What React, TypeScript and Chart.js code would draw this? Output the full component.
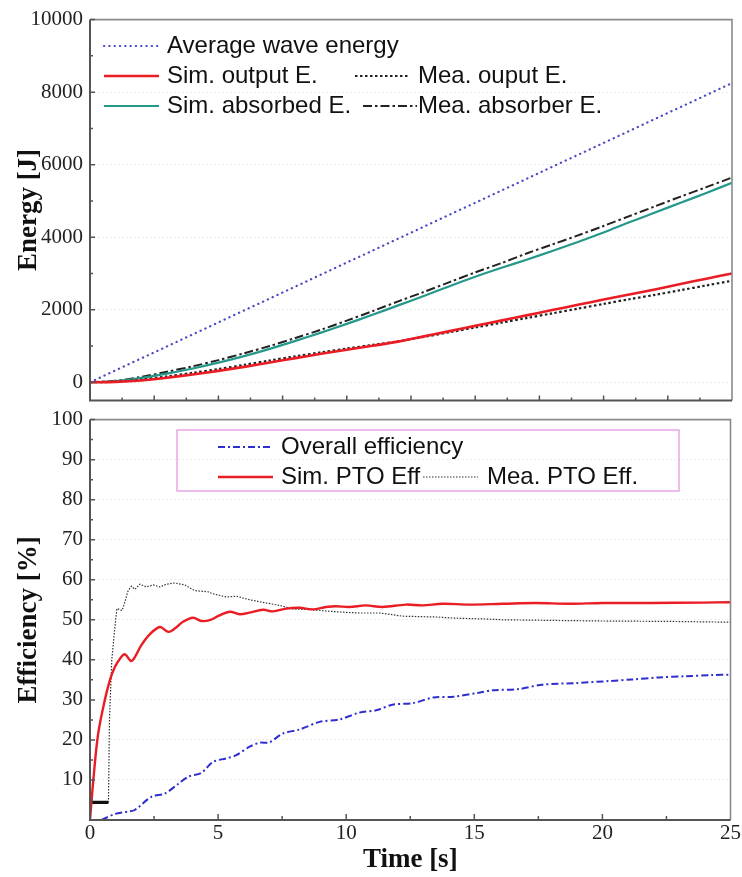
import { useEffect, useRef } from "react";
import { Chart, registerables } from "chart.js";

Chart.register(...registerables);

// ---------- Top panel: energy [J] vs time [s] ----------
const energyTime = [0, 1, 2, 3, 4, 5, 6, 7, 8, 9, 10, 11, 12, 13, 14, 15, 16, 17, 18, 19, 20, 21, 22, 23, 24, 25];
const avgWaveTime = [0, 5, 10, 15, 20, 25];
const avgWaveEnergy = [0, 1650, 3300, 4950, 6600, 8250];
const simOutputE = [0, 10, 50, 125, 215, 315, 425, 545, 665, 785, 895, 1005, 1120, 1265, 1410, 1555, 1700, 1845, 1990, 2135, 2280, 2420, 2560, 2710, 2855, 3000];
const meaOutputE = [0, 15, 70, 160, 260, 365, 480, 600, 715, 825, 930, 1030, 1130, 1250, 1380, 1510, 1640, 1770, 1900, 2030, 2160, 2290, 2410, 2540, 2670, 2800];
const simAbsorbedE = [0, 30, 120, 240, 380, 540, 720, 920, 1140, 1370, 1610, 1860, 2120, 2380, 2650, 2910, 3150, 3380, 3620, 3870, 4130, 4410, 4680, 4950, 5220, 5500];
const meaAbsorberE = [0, 40, 150, 290, 440, 610, 800, 1000, 1220, 1450, 1700, 1960, 2230, 2490, 2760, 3030, 3280, 3550, 3800, 4050, 4310, 4580, 4850, 5120, 5380, 5645];
const energyTicks = [0, 2000, 4000, 6000, 8000, 10000];
const energyMinorTicks = [1000, 3000, 5000, 7000, 9000];

// ---------- Bottom panel: efficiency [%] vs time [s] ----------
const simPtoT = [0, 0.13, 0.32, 0.58, 0.78, 0.97, 1.17, 1.36, 1.6, 1.75, 2.0, 2.34, 2.73, 3.05, 3.31, 3.63, 4.02, 4.35, 4.67, 5.06, 5.45, 5.84, 6.23, 6.75, 7.14, 7.66, 8.18, 8.7, 9.21, 9.6, 10.12, 10.77, 11.42, 12.33, 12.98, 13.76, 14.8, 16.1, 17.4, 18.7, 20, 21.9, 23.9, 25];
const simPtoEff = [0, 10, 21.6, 30, 35, 38.2, 40.3, 41.4, 39.7, 40.7, 43.6, 46.4, 48.2, 47, 47.8, 49.5, 50.5, 49.7, 49.9, 51.1, 52, 51.4, 51.8, 52.5, 52.1, 52.8, 53, 52.6, 53.2, 53.4, 53.2, 53.6, 53.2, 53.8, 53.6, 54, 53.8, 54, 54.2, 54, 54.2, 54.2, 54.3, 54.4];
const meaPtoT = [0, 0.72, 0.76, 0.85, 0.97, 1.05, 1.15, 1.25, 1.36, 1.49, 1.62, 1.75, 1.95, 2.2, 2.47, 2.73, 2.99, 3.31, 3.7, 4.08, 4.6, 4.8, 5.32, 5.71, 6.23, 6.88, 7.4, 7.92, 8.7, 9.21, 9.87, 10.51, 11.29, 11.68, 12.2, 13.5, 14.28, 15.45, 16.1, 17.4, 20, 22.6, 25];
const meaPtoEff = [4.4, 4.4, 25, 40, 48, 52.8, 52.6, 52.3, 54.4, 57.3, 58.4, 57.6, 58.9, 58.2, 58.7, 58.2, 58.9, 59.2, 58.7, 57.3, 57, 56.5, 55.7, 55.9, 55, 54.2, 53.6, 52.7, 52.5, 52.2, 51.9, 51.7, 51.7, 51.4, 50.9, 50.7, 50.4, 50.2, 50, 49.9, 49.7, 49.6, 49.4];
const overallT = [0.45, 0.97, 1.49, 1.75, 2.4, 2.92, 3.44, 3.83, 4.35, 4.8, 5.32, 5.71, 6.23, 6.62, 7.0, 7.53, 8.18, 8.96, 9.74, 10.5, 11.17, 11.8, 12.6, 13.4, 14.2, 15.19, 15.7, 16.74, 17.65, 18.95, 20.25, 21.16, 22.2, 23.24, 24.28, 25];
const overallEff = [0, 1.5, 2.1, 2.5, 5.8, 6.6, 9, 10.8, 11.8, 14.5, 15.4, 16.2, 18.3, 19.3, 19.4, 21.6, 22.6, 24.5, 25.1, 26.8, 27.4, 28.8, 29.2, 30.6, 30.8, 31.8, 32.4, 32.7, 33.8, 34.2, 34.7, 35.1, 35.6, 35.9, 36.2, 36.3];
const effTicks = [0, 10, 20, 30, 40, 50, 60, 70, 80, 90, 100];
const effMinorTicks = [5, 15, 25, 35, 45, 55, 65, 75, 85, 95];
const timeTicks = [0, 5, 10, 15, 20, 25];

const SANS = "'Liberation Sans', Arial, sans-serif";
const SERIF = "'Liberation Serif', 'Times New Roman', serif";

type LS = { color: string; width: number; dash: number[]; cap?: CanvasLineCap };
const ST: Record<string, LS> = {
  avg: { color: "#4a4ac4", width: 2.2, dash: [0.3, 5], cap: "round" },
  simOut: { color: "#ea1c24", width: 2.6, dash: [] },
  meaOut: { color: "#222222", width: 2.2, dash: [2.5, 2.5] },
  simAbs: { color: "#24988a", width: 2.2, dash: [] },
  meaAbs: { color: "#222222", width: 2, dash: [9, 3, 2.5, 3] },
  overall: { color: "#2e2ed0", width: 2, dash: [7, 3, 2, 3] },
  simPto: { color: "#ea1c24", width: 2.4, dash: [] },
  meaPto: { color: "#333333", width: 1.2, dash: [1.5, 1.5] },
};

const pts = (xs: number[], ys: number[]) => xs.map((x, i) => ({ x, y: ys[i] }));

function ds(label: string, data: any[], s: LS, extra: any = {}) {
  return {
    label,
    data,
    borderColor: s.color,
    backgroundColor: s.color,
    borderWidth: s.width,
    borderDash: s.dash,
    borderCapStyle: s.cap || "butt",
    pointRadius: 0,
    fill: false,
    ...extra,
  };
}

function sample(ctx: CanvasRenderingContext2D, x1: number, x2: number, y: number, s: LS) {
  ctx.save();
  ctx.strokeStyle = s.color;
  ctx.lineWidth = s.width;
  ctx.setLineDash(s.dash);
  ctx.lineCap = s.cap || "butt";
  ctx.beginPath();
  ctx.moveTo(x1, y);
  ctx.lineTo(x2, y);
  ctx.stroke();
  ctx.restore();
}

function text(ctx: CanvasRenderingContext2D, t: string, x: number, y: number) {
  ctx.save();
  ctx.font = `24px ${SANS}`;
  ctx.fillStyle = "#111";
  ctx.textBaseline = "middle";
  ctx.textAlign = "left";
  ctx.fillText(t, x, y);
  ctx.restore();
}

function framePlugin(
  id: string,
  yMaj: number[],
  yMin: number[],
  xMaj: number[],
  xMin: number[],
  xMajLen: number,
  xMinLen: number
) {
  return {
    id,
    afterDraw(chart: any) {
      const { ctx, chartArea: a, scales } = chart;
      const x = scales.x;
      const y = scales.y;
      ctx.save();
      ctx.setLineDash([]);
      ctx.strokeStyle = "#8a8a8a";
      ctx.lineWidth = 1.6;
      ctx.beginPath();
      ctx.moveTo(a.left, a.top);
      ctx.lineTo(a.right, a.top);
      ctx.lineTo(a.right, a.bottom);
      ctx.stroke();
      ctx.strokeStyle = "#555";
      ctx.lineWidth = 2;
      ctx.beginPath();
      ctx.moveTo(a.left, a.top);
      ctx.lineTo(a.left, a.bottom);
      ctx.lineTo(a.right, a.bottom);
      ctx.stroke();
      ctx.lineWidth = 1.5;
      ctx.beginPath();
      yMaj.forEach((v) => {
        const p = y.getPixelForValue(v);
        ctx.moveTo(a.left, p);
        ctx.lineTo(a.left + 5, p);
      });
      yMin.forEach((v) => {
        const p = y.getPixelForValue(v);
        ctx.moveTo(a.left, p);
        ctx.lineTo(a.left + 3, p);
      });
      xMaj.forEach((v) => {
        const p = x.getPixelForValue(v);
        ctx.moveTo(p, a.bottom);
        ctx.lineTo(p, a.bottom - xMajLen);
      });
      xMin.forEach((v) => {
        const p = x.getPixelForValue(v);
        ctx.moveTo(p, a.bottom);
        ctx.lineTo(p, a.bottom - xMinLen);
      });
      ctx.stroke();
      ctx.restore();
    },
  };
}

const topLegend = {
  id: "topLegend",
  afterDraw(chart: any) {
    const ctx = chart.ctx as CanvasRenderingContext2D;
    sample(ctx, 104, 159, 46, ST.avg);
    text(ctx, "Average wave energy", 167, 46);
    sample(ctx, 104, 159, 76, ST.simOut);
    text(ctx, "Sim. output E.", 167, 76);
    sample(ctx, 355, 408, 76, ST.meaOut);
    text(ctx, "Mea. ouput E.", 418, 76);
    sample(ctx, 104, 159, 106, ST.simAbs);
    text(ctx, "Sim. absorbed E.", 167, 106);
    sample(ctx, 363, 417, 106, ST.meaAbs);
    text(ctx, "Mea. absorber E.", 418, 106);
  },
};

const bottomLegend = {
  id: "bottomLegend",
  afterDraw(chart: any) {
    const ctx = chart.ctx as CanvasRenderingContext2D;
    ctx.save();
    ctx.strokeStyle = "#e8a6e8";
    ctx.lineWidth = 1.5;
    ctx.setLineDash([]);
    ctx.strokeRect(177, 30, 502, 61);
    ctx.restore();
    sample(ctx, 218, 273, 47, ST.overall);
    text(ctx, "Overall efficiency", 281, 47);
    sample(ctx, 218, 273, 77, ST.simPto);
    text(ctx, "Sim. PTO Eff", 281, 77);
    sample(ctx, 423, 478, 77, ST.meaPto);
    text(ctx, "Mea. PTO Eff.", 487, 77);
  },
};

const tickFont = { family: SERIF, size: 21 };
const titleFont = { family: SERIF, size: 27, weight: "bold" as const };
const GRID = "rgba(0,0,0,0.08)";

export default function App() {
  const topRef = useRef<HTMLCanvasElement>(null);
  const botRef = useRef<HTMLCanvasElement>(null);

  useEffect(() => {
    const top = new Chart(topRef.current!, {
      type: "line",
      data: {
        datasets: [
          ds("Sim. output E.", pts(energyTime, simOutputE), ST.simOut, { tension: 0.3 }),
          ds("Mea. ouput E.", pts(energyTime, meaOutputE), ST.meaOut, { tension: 0.3 }),
          ds("Sim. absorbed E.", pts(energyTime, simAbsorbedE), ST.simAbs, { tension: 0.3 }),
          ds("Mea. absorber E.", pts(energyTime, meaAbsorberE), ST.meaAbs, { tension: 0.3 }),
          ds("Average wave energy", pts(avgWaveTime, avgWaveEnergy), ST.avg),
        ] as any,
      },
      options: {
        animation: false,
        responsive: false,
        layout: { padding: { top: 18, right: 10, bottom: 1, left: 0 } },
        plugins: { legend: { display: false }, tooltip: { enabled: false } },
        scales: {
          x: { type: "linear", min: 0, max: 25, display: false },
          y: {
            type: "linear",
            min: -500,
            max: 10000,
            afterBuildTicks: (s: any) => {
              s.ticks = energyTicks.map((v) => ({ value: v }));
            },
            afterFit: (s: any) => {
              s.width = 90;
            },
            ticks: {
              font: tickFont,
              color: "#222",
              padding: 7,
              autoSkip: false,
              callback: (v: any) => String(v),
            },
            grid: { color: GRID, drawTicks: false, lineWidth: 1 },
            border: { display: false, dash: [2, 2] },
            title: {
              display: true,
              text: "Energy [J]",
              font: titleFont,
              color: "#111",
              padding: { top: 13, bottom: 0 },
            },
          },
        },
      } as any,
      plugins: [
        framePlugin("frameTop", energyTicks, energyMinorTicks, [2.5, 5, 7.5, 10, 12.5, 15, 17.5, 20, 22.5], [1.25, 3.75, 6.25, 8.75, 11.25, 13.75, 16.25, 18.75, 21.25, 23.75], 5, 3),
        topLegend,
      ],
    });

    const bot = new Chart(botRef.current!, {
      type: "line",
      data: {
        datasets: [
          ds("Sim. PTO Eff", pts(simPtoT, simPtoEff), ST.simPto, { tension: 0.35 }),
          ds("Mea. PTO Eff.", pts(meaPtoT, meaPtoEff), ST.meaPto, {
            tension: 0,
            segment: {
              borderWidth: (c: any) => (c.p1.parsed.x <= 0.72 ? 3.2 : ST.meaPto.width),
              borderDash: (c: any) => (c.p1.parsed.x <= 0.72 ? [] : ST.meaPto.dash),
              borderColor: (c: any) => (c.p1.parsed.x <= 0.72 ? "#111" : ST.meaPto.color),
            },
          }),
          ds("Overall efficiency", pts(overallT, overallEff), ST.overall, { tension: 0.3 }),
        ] as any,
      },
      options: {
        animation: false,
        responsive: false,
        layout: { padding: { top: 19, right: 10, bottom: 0, left: 0 } },
        plugins: { legend: { display: false }, tooltip: { enabled: false } },
        scales: {
          x: {
            type: "linear",
            min: 0,
            max: 25,
            afterBuildTicks: (s: any) => {
              s.ticks = timeTicks.map((v) => ({ value: v }));
            },
            afterFit: (s: any) => {
              s.height = 57;
            },
            ticks: {
              font: tickFont,
              color: "#222",
              padding: 1,
              autoSkip: false,
              maxRotation: 0,
              callback: (v: any) => String(v),
            },
            grid: { display: false, drawTicks: false },
            border: { display: false },
            title: {
              display: true,
              text: "Time [s]",
              font: titleFont,
              color: "#111",
              padding: { top: 0, bottom: 1 },
            },
          },
          y: {
            type: "linear",
            min: 0,
            max: 100,
            afterBuildTicks: (s: any) => {
              s.ticks = effTicks.map((v) => ({ value: v }));
            },
            afterFit: (s: any) => {
              s.width = 90;
            },
            ticks: {
              font: tickFont,
              color: "#222",
              padding: 7,
              autoSkip: false,
              callback: (v: any) => (v === 0 ? "" : String(v)),
            },
            grid: {
              color: (c: any) => (c.tick && (c.tick.value === 0 || c.tick.value === 100) ? "rgba(0,0,0,0)" : GRID),
              drawTicks: false,
              lineWidth: 1,
            },
            border: { display: false, dash: [2, 2] },
            title: {
              display: true,
              text: "Efficiency [%]",
              font: titleFont,
              color: "#111",
              padding: { top: 13, bottom: 0 },
            },
          },
        },
      } as any,
      plugins: [
        framePlugin("frameBot", effTicks, effMinorTicks, [5, 10, 15, 20], [2.5, 7.5, 12.5, 17.5, 22.5], 6, 4),
        bottomLegend,
      ],
    });

    return () => {
      top.destroy();
      bot.destroy();
    };
  }, []);

  return (
    <div style={{ position: "absolute", left: 0, top: 0, width: 742, height: 877, background: "#fff" }}>
      <canvas ref={botRef} width={742} height={477} style={{ position: "absolute", left: 0, top: 400 }} />
      <canvas ref={topRef} width={742} height={420} style={{ position: "absolute", left: 0, top: 0 }} />
    </div>
  );
}
